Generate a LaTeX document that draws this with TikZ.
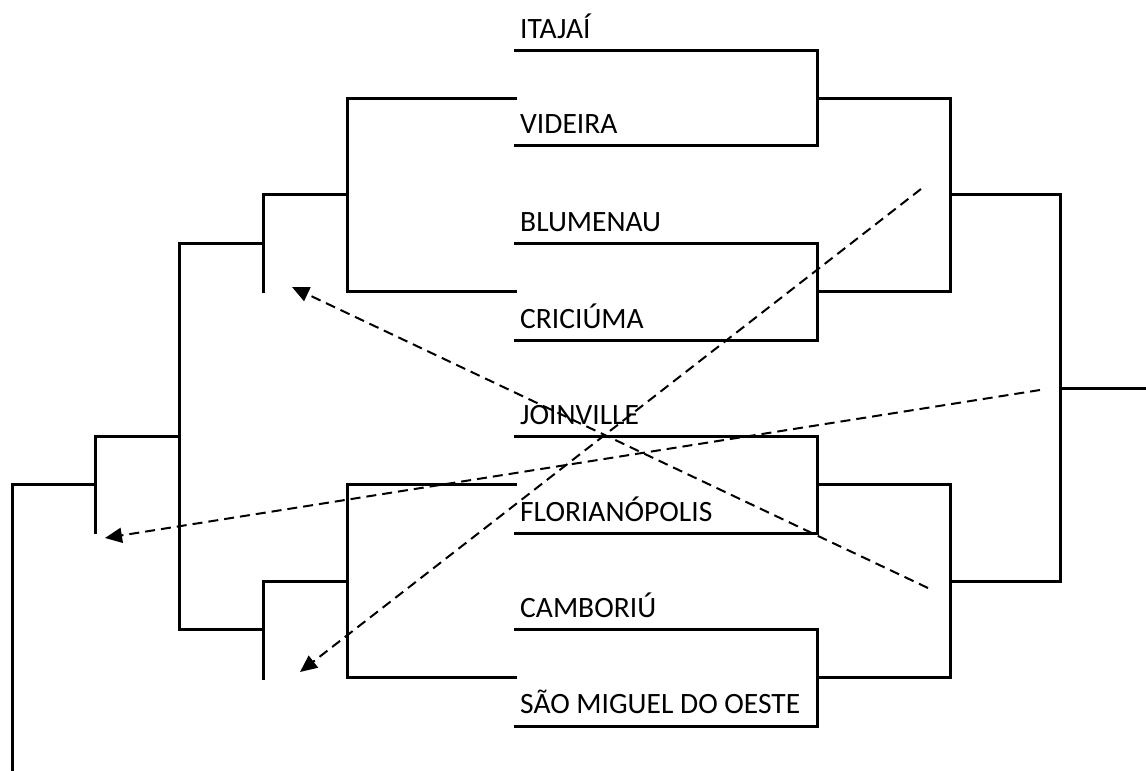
\documentclass[tikz,border=0pt]{standalone}
\usepackage{fontspec}
\setmainfont{Carlito}
\usetikzlibrary{arrows.meta}
\begin{document}
\begin{tikzpicture}[x=1pt,y=-1pt,
  br/.style={line width=3pt,line join=miter,line cap=rect},
  dsh/.style={line width=2pt,dash pattern=on 10pt off 6pt,-{Triangle[length=17pt,width=15pt]}},
  team/.style={anchor=base west,inner sep=0pt,font=\fontsize{29.5}{33}\selectfont}]
\useasboundingbox (0,0) rectangle (1146,771);
% team labels
\node[team] (t1) at (520,38) {ITAJAÍ};
\node[team] (t2) at (520,133) {VIDEIRA};
\node[team] (t3) at (520,231) {BLUMENAU};
\node[team] (t4) at (520,328) {CRICIÚMA};
\node[team] (t5) at (520,424) {JOINVILLE};
\node[team] (t6) at (520,521) {FLORIANÓPOLIS};
\node[team] (t7) at (520,617) {CAMBORIÚ};
\node[team] (t8) at (520,713) {SÃO MIGUEL DO OESTE};
% coordinates
\coordinate (a1) at (515,50);  \coordinate (b1) at (817,50);
\coordinate (a2) at (515,145); \coordinate (b2) at (817,145);
\coordinate (a3) at (515,243); \coordinate (b3) at (817,243);
\coordinate (a4) at (515,340); \coordinate (b4) at (817,340);
\coordinate (a5) at (515,436); \coordinate (b5) at (817,436);
\coordinate (a6) at (515,533); \coordinate (b6) at (817,533);
\coordinate (a7) at (515,629); \coordinate (b7) at (817,629);
\coordinate (a8) at (515,726); \coordinate (b8) at (817,726);
% right side
\coordinate (r12) at (817,98);  \coordinate (s12) at (950,98);
\coordinate (r34) at (817,291); \coordinate (s34) at (950,291);
\coordinate (r56) at (817,484); \coordinate (s56) at (950,484);
\coordinate (r78) at (817,677); \coordinate (s78) at (950,677);
\coordinate (q1) at (950,194); \coordinate (p1) at (1060,194);
\coordinate (q2) at (950,581); \coordinate (p2) at (1060,581);
\coordinate (f) at (1060,388); \coordinate (fe) at (1146,388);
% left side
\coordinate (l12) at (515,98);  \coordinate (m12) at (347,98);
\coordinate (l34) at (515,291); \coordinate (m34) at (347,291);
\coordinate (l56) at (515,484); \coordinate (m56) at (347,484);
\coordinate (l78) at (515,677); \coordinate (m78) at (347,677);
\coordinate (n1) at (347,194); \coordinate (o1) at (263,194); \coordinate (o1e) at (263,291);
\coordinate (n2) at (347,581); \coordinate (o2) at (263,581); \coordinate (o2e) at (263,678);
\coordinate (g1) at (263,243); \coordinate (h1) at (179,243);
\coordinate (g2) at (263,629); \coordinate (h2) at (179,629);
\coordinate (h0) at (179,436); \coordinate (k0) at (95,436); \coordinate (k0e) at (95,532);
\coordinate (k1) at (95,484); \coordinate (z1) at (12,484); \coordinate (z2) at (12,771);
% team lines and right bracket
\draw[br] (a1) -- (b1) -- (b2) -- (a2);
\draw[br] (a3) -- (b3) -- (b4) -- (a4);
\draw[br] (a5) -- (b5) -- (b6) -- (a6);
\draw[br] (a7) -- (b7) -- (b8) -- (a8);
\draw[br] (r12) -- (s12) -- (s34) -- (r34);
\draw[br] (r56) -- (s56) -- (s78) -- (r78);
\draw[br] (q1) -- (p1) -- (p2) -- (q2);
\draw[br] (f) -- (fe);
% left bracket
\draw[br] (l12) -- (m12) -- (m34) -- (l34);
\draw[br] (l56) -- (m56) -- (m78) -- (l78);
\draw[br] (n1) -- (o1) -- (o1e);
\draw[br] (n2) -- (o2) -- (o2e);
\draw[br] (g1) -- (h1) -- (h2) -- (g2);
\draw[br] (h0) -- (k0) -- (k0e);
\draw[br] (k1) -- (z1) -- (z2);
% dashed arrows
\coordinate (d1s) at (921,189); \coordinate (d1e) at (300,672);
\coordinate (d2s) at (928,588); \coordinate (d2e) at (292,287);
\coordinate (d3s) at (1040,390); \coordinate (d3e) at (105,538);
\draw[dsh] (d1s) -- (d1e);
\draw[dsh] (d2s) -- (d2e);
\draw[dsh] (d3s) -- (d3e);
\end{tikzpicture}
\end{document}
